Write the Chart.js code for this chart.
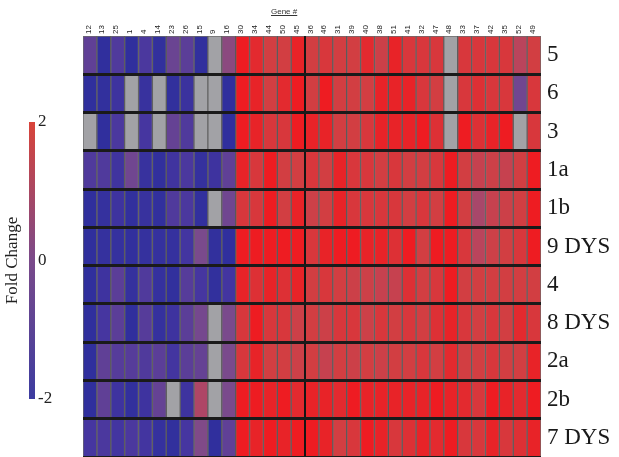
<!DOCTYPE html>
<html>
<head>
<meta charset="utf-8">
<script src="https://cdn.jsdelivr.net/npm/chart.js@4.4.1/dist/chart.umd.min.js"></script>
<style>
  body { margin: 0; background: #fff; }
  #wrap { position: relative; width: 619px; height: 457px; overflow: hidden; }
  #main { position: absolute; left: 0; top: 0; }
  #cb { position: absolute; left: 0; top: 0; }
  #geneTitle { position: absolute; left: 271px; top: 7px; font: 8px "Liberation Sans", sans-serif; color: #333; text-decoration: underline; }
</style>
</head>
<body>
<div id="wrap">
  <canvas id="main" width="619" height="457"></canvas>
  <canvas id="cb" width="80" height="457"></canvas>
  <div id="geneTitle">Gene #</div>
</div>
<script>
const genes = ['12','13','25','1','4','14','23','26','15','9','16','30','34','44','50','45','36','46','31','39','40','38','51','41','32','47','48','33','37','42','35','52','49'];
const rows = ['5','6','3','1a','1b','9 DYS','4','8 DYS','2a','2b','7 DYS'];

// fold change per row, one value per gene (null = no data, grey)
const row5    = [-0.5,-1.8,-0.8,-1.8,-0.9,-1.7,-0.3,-0.6,-1.7,null,0.3, 2.0,1.8,1.5,1.5,1.9,1.5,1.6,1.5,1.5,1.8,1.4, 1.9,1.6,1.6,1.6,null,1.6,1.6,1.6,1.6,1.1,1.5];
const row6    = [-1.8,-1.7,-1.3,null,-1.5,null,-1.7,-1.4,null,null,-1.8, 2.0,1.9,1.5,1.8,2.0,1.5,2.0,1.5,1.5,1.5,1.9, 1.9,1.9,1.6,1.5,null,1.6,1.7,1.6,1.6,-0.2,1.6];
const row3    = [null,-1.8,-0.9,null,-1.0,null,-0.4,-0.8,null,null,-1.8, 2.0,1.9,1.6,1.6,2.0,1.9,1.9,1.5,1.5,1.6,1.9, 1.9,1.9,2.0,1.7,null,2.0,1.7,1.9,2.0,null,1.6];
const row1a   = [-0.8,-0.8,-1.2,-0.2,-1.5,-1.7,-1.2,-0.9,-1.6,-1.3,-0.5, 1.9,1.6,2.0,1.5,1.5,1.6,1.5,1.9,1.6,1.6,1.5, 1.6,1.5,1.5,1.6,2.0,1.5,1.3,1.4,1.3,1.5,2.0];
const row1b   = [-1.8,-1.6,-1.3,-1.7,-1.5,-1.7,-0.8,-0.9,-1.7,null,-0.2, 1.6,1.6,2.0,1.5,1.9,1.4,1.5,1.9,1.6,1.6,1.6, 1.6,1.5,1.6,1.5,2.0,1.5,0.8,1.3,1.4,1.5,2.0];
const row9dys = [-1.8,-1.6,-1.6,-1.7,-1.6,-1.6,-1.6,-1.1,0.0,-1.7,-1.8, 2.0,2.0,2.0,2.0,2.0,1.6,1.9,2.0,2.0,1.9,1.9, 1.7,2.0,1.5,2.0,2.0,1.6,1.1,1.4,1.5,1.6,2.0];
const row4    = [-1.8,-1.3,-0.6,-1.6,-0.8,-1.6,-1.7,-0.7,-1.0,-1.7,-1.1, 1.9,1.7,1.9,1.7,1.9,1.5,1.6,1.5,1.4,1.4,1.3, 1.3,1.7,1.5,1.6,2.0,1.5,1.5,1.5,1.5,1.5,1.5];
const row8dys = [-1.8,-1.0,-0.6,-1.8,-0.7,-1.6,-1.3,-0.6,-0.1,null,0.0, 1.6,2.0,1.6,1.6,1.4,1.5,1.4,1.6,1.6,1.4,1.6, 1.5,1.6,1.5,1.7,1.9,1.6,1.5,1.6,1.5,1.8,1.6];
const row2a   = [-1.8,-0.5,-0.7,-0.7,-0.8,-0.6,-1.1,-0.6,-0.4,null,0.0, 1.6,1.9,1.5,1.5,1.4,1.5,1.3,1.5,1.4,1.5,1.4, 1.5,1.5,1.6,1.5,1.8,1.5,1.5,1.6,1.5,1.5,1.9];
const row2b   = [-1.8,-0.5,-1.3,-1.7,-1.3,-0.4,null,-1.3,0.9,null,0.0, 2.0,2.0,1.9,2.0,1.8,1.9,1.9,1.8,2.0,1.9,1.9, 1.9,1.9,1.9,2.0,1.9,1.8,1.6,2.0,1.9,1.8,2.0];
const row7dys = [-1.0,-0.9,-1.1,-0.9,-1.1,-1.6,-1.7,-1.0,0.1,-1.8,-0.5, 2.0,1.9,2.0,1.9,2.0,2.0,1.9,1.5,1.6,2.0,1.9, 1.6,1.7,1.9,1.8,2.0,1.6,1.6,1.9,1.6,1.7,1.9];
const values = [row5, row6, row3, row1a, row1b, row9dys, row4, row8dys, row2a, row2b, row7dys];

const scaleTicks = [-2, 0, 2];
const cmapStops = [-2, -1, 0, 1, 1.5, 2];
const cmapColors = [[42,45,156],[70,54,160],[122,74,140],[180,70,98],[210,62,66],[238,28,34]];
const missingColor = '#a2a2a6';

function colorFor(v) {
  if (v === null) return missingColor;
  v = Math.max(-2, Math.min(2, v));
  for (let i = 1; i < cmapStops.length; i++) {
    if (v <= cmapStops[i]) {
      const t = (v - cmapStops[i-1]) / (cmapStops[i] - cmapStops[i-1]);
      const a = cmapColors[i-1], b = cmapColors[i];
      const c = a.map((x, k) => Math.round(x + (b[k] - x) * t));
      return `rgb(${c[0]},${c[1]},${c[2]})`;
    }
  }
  return 'rgb(238,28,34)';
}

const datasets = rows.map((name, r) => ({
  label: name,
  data: genes.map(() => [r, r + 1]),
  backgroundColor: values[r].map(colorFor),
  borderColor: 'rgba(45,45,45,0.7)',
  borderWidth: 1,
  borderSkipped: false,
  grouped: false,
  barPercentage: 1,
  categoryPercentage: 1,
  yAxisID: 'y'
}));

new Chart(document.getElementById('main'), {
  type: 'bar',
  data: { labels: genes, datasets },
  options: {
    responsive: false,
    animation: false,
    layout: { padding: { left: 83, top: 0, bottom: 0, right: 0 } },
    plugins: { legend: { display: false }, tooltip: { enabled: false } },
    scales: {
      x: {
        position: 'top',
        afterFit: (s) => { s.height = 36; s.paddingLeft = 0; s.paddingRight = 0; },
        border: { display: false },
        grid: {
          offset: true, drawTicks: false, z: 1,
          color: (c) => c.index === 16 ? '#151515' : 'rgba(0,0,0,0)',
          lineWidth: 2
        },
        ticks: {
          autoSkip: false, minRotation: 90, maxRotation: 90, padding: 2, labelOffset: 8,
          font: { family: 'Liberation Sans', size: 8 }, color: '#222'
        }
      },
      y: { display: false, min: 0, max: 11, reverse: true },
      y2: {
        type: 'category',
        labels: rows,
        position: 'right',
        offset: true,
        afterFit: (s) => { s.width = 78; s.paddingTop = 0; s.paddingBottom = 0; },
        border: { display: false },
        grid: {
          offset: true, drawTicks: false, z: 1, lineWidth: 3,
          color: (c) => c.index === 0 ? 'rgba(0,0,0,0)' : '#1a1a1a'
        },
        ticks: {
          padding: 6,
          font: { family: 'Liberation Serif', size: 23 }, color: '#1a1a1a'
        }
      }
    }
  }
});

// colour bar
new Chart(document.getElementById('cb'), {
  type: 'bar',
  data: {
    labels: ['Fold Change'],
    datasets: [{
      data: [[scaleTicks[0], scaleTicks[scaleTicks.length - 1]]],
      barPercentage: 0.5,
      categoryPercentage: 1,
      maxBarThickness: 7,
      yAxisID: 'y',
      backgroundColor: (ctx) => {
        const ch = ctx.chart;
        if (!ch.chartArea) return '#7a4a8a';
        const y = ch.scales.y;
        const g = ch.ctx.createLinearGradient(0, y.getPixelForValue(-2), 0, y.getPixelForValue(2));
        g.addColorStop(0, '#3c3ca0');
        g.addColorStop(0.5, '#7a4a8a');
        g.addColorStop(1, '#d9443a');
        return g;
      }
    }]
  },
  options: {
    responsive: false,
    animation: false,
    layout: { padding: { top: 122, bottom: 58, left: 0, right: 0 } },
    plugins: { legend: { display: false }, tooltip: { enabled: false } },
    scales: {
      x: { display: false },
      y: {
        position: 'right', min: -2, max: 2,
        afterFit: (s) => { s.width = 42; },
        border: { display: false },
        grid: { display: false, drawTicks: false },
        afterBuildTicks: (s) => { s.ticks = scaleTicks.map(v => ({ value: v })); },
        ticks: { padding: 0, font: { family: 'Liberation Serif', size: 17 }, color: '#222' }
      },
      yt: {
        position: 'left', min: -2, max: 2,
        afterFit: (s) => { s.width = 26; },
        border: { display: false },
        grid: { display: false, drawTicks: false },
        ticks: { display: false },
        title: { display: true, text: 'Fold Change', font: { family: 'Liberation Serif', size: 17 }, color: '#222', padding: 2 }
      }
    }
  }
});
</script>
</body>
</html>
